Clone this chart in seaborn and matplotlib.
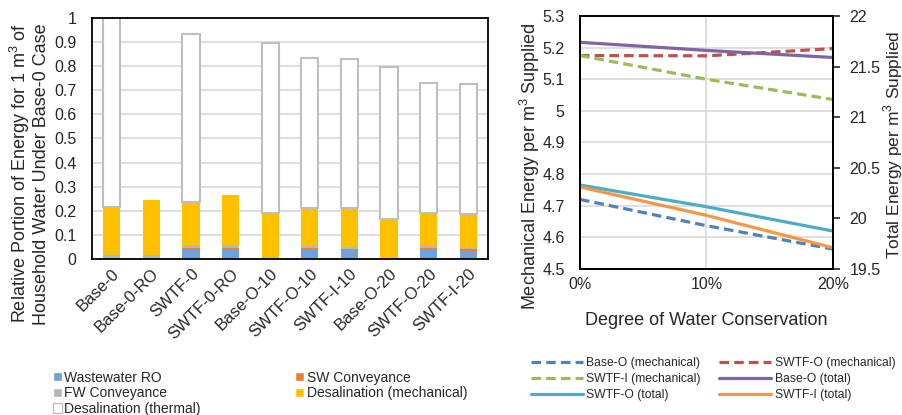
import matplotlib
matplotlib.use("Agg")
import matplotlib.pyplot as plt
import matplotlib.ticker as mticker
from matplotlib.patches import Patch
from matplotlib.lines import Line2D
import numpy as np
import pandas as pd
import seaborn as sns

# ---- data: stacked bars (relative energy portion) ----
cases = ["Base-0", "Base-0-RO", "SWTF-0", "SWTF-0-RO", "Base-O-10",
         "SWTF-O-10", "SWTF-I-10", "Base-O-20", "SWTF-O-20", "SWTF-I-20"]
wastewater_ro = [0.0, 0.0, 0.042, 0.042, 0.0, 0.042, 0.037, 0.0, 0.042, 0.034]
sw_conveyance = [0.0, 0.0, 0.003, 0.003, 0.0, 0.003, 0.004, 0.0, 0.003, 0.006]
fw_conveyance = [0.015, 0.015, 0.013, 0.013, 0.008, 0.010, 0.008, 0.004, 0.007, 0.007]
desal_mech = [0.200, 0.228, 0.177, 0.207, 0.184, 0.157, 0.161, 0.163, 0.138, 0.140]
desal_thermal = [0.785, 0.0, 0.700, 0.0, 0.706, 0.621, 0.620, 0.628, 0.542, 0.540]

# ---- data: energy vs water conservation ----
conservation = [0, 10, 20]
base_o_mech = [4.72, 4.637, 4.563]
swtf_o_mech = [5.175, 5.174, 5.197]
swtf_i_mech = [5.175, 5.10, 5.036]
base_o_total = [21.74, 21.66, 21.59]
swtf_o_total = [20.33, 20.115, 19.875]
swtf_i_total = [20.31, 20.03, 19.71]

sns.set_style("white")
plt.rcParams["font.family"] = ["Liberation Sans", "DejaVu Sans"]
plt.rcParams["mathtext.fontset"] = "custom"
plt.rcParams["mathtext.rm"] = "Liberation Sans"

W, H = 903, 415
fig = plt.figure(figsize=(W / 100, H / 100), dpi=100)


def px_axes(x0, y0, x1, y1):
    return fig.add_axes([x0 / W, 1 - y1 / H, (x1 - x0) / W, (y1 - y0) / H])


grid_c = "#D9D9D9"
tick_fs = 11.5
label_fs = 13
fmt = mticker.FuncFormatter(lambda v, p: f"{v:g}")

# ================= left: stacked bars =================
ax = px_axes(92, 18, 488, 259)
df = pd.DataFrame({"case": cases, "ww": wastewater_ro, "sw": sw_conveyance,
                   "fw": fw_conveyance, "mech": desal_mech, "thermal": desal_thermal})

layers = [("ww", "#70A1D7"), ("sw", "#ED7D31"), ("fw", "#B7B7B7"), ("mech", "#FFC000")]
bottom = np.zeros(len(cases))
for col, color in layers:
    sns.barplot(data=df, x="case", y=col, order=cases, color=color, width=0.43,
                bottom=bottom, ax=ax, linewidth=0, saturation=1, errorbar=None)
    bottom = bottom + df[col].to_numpy()

has_th = df["thermal"] > 0
sns.barplot(data=df[has_th], x="case", y="thermal", order=cases, color="white",
            width=0.43, bottom=bottom[has_th.to_numpy()], ax=ax,
            edgecolor="#BFBFBF", linewidth=1.5, saturation=1, errorbar=None)

ax.set_ylim(0, 1)
ax.set_xlim(-0.5, len(cases) - 0.5)
ax.yaxis.set_major_locator(mticker.MultipleLocator(0.1))
ax.yaxis.set_major_formatter(fmt)
ax.grid(axis="y", color=grid_c, linewidth=1.2)
ax.set_axisbelow(True)
ax.set_xlabel("")
ax.set_ylabel("")
ax.tick_params(axis="y", length=0, labelsize=tick_fs, pad=11)
ax.tick_params(axis="x", length=0, labelsize=12, pad=5)
ax.set_xticks(range(len(cases)))
ax.set_xticklabels(cases, rotation=45, ha="right", rotation_mode="anchor")
for s in ax.spines.values():
    s.set_color("black")
    s.set_linewidth(1.3)

fig.text(29 / W, 1 - 23 / H,
         "Relative Portion of Energy for 1 m$^3$ of\nHousehold Water Under Base-0 Case",
         rotation=90, ha="center", va="top", multialignment="right",
         fontsize=label_fs, linespacing=1.1)

left_handles = [
    Patch(facecolor="#70A1D7", label="Wastewater RO"),
    Patch(facecolor="#B7B7B7", label="FW Conveyance"),
    Patch(facecolor="white", edgecolor="#BFBFBF", linewidth=1, label="Desalination (thermal)"),
    Patch(facecolor="#ED7D31", label="SW Conveyance"),
    Patch(facecolor="#FFC000", label="Desalination (mechanical)"),
]
fig.legend(handles=left_handles, loc="upper left", bbox_to_anchor=(47 / W, 1 - 365 / H),
           ncol=2, frameon=False, fontsize=10, handlelength=0.65, handleheight=0.65,
           handletextpad=0.2, columnspacing=6.8, labelspacing=0.12, borderaxespad=0)

# ================= right: lines with twin axis =================
ax1 = px_axes(580, 16, 833, 269)
ax2 = ax1.twinx()

mech = [("Base-O (mechanical)", base_o_mech, "#4F81BD"),
        ("SWTF-O (mechanical)", swtf_o_mech, "#C0504D"),
        ("SWTF-I (mechanical)", swtf_i_mech, "#9BBB59")]
tot = [("Base-O (total)", base_o_total, "#8064A2"),
       ("SWTF-O (total)", swtf_o_total, "#4BACC6"),
       ("SWTF-I (total)", swtf_i_total, "#F79646")]

dash = (0, (3, 1.6))
handles = {}
for name, vals, color in mech:
    sns.lineplot(x=conservation, y=vals, ax=ax1, color=color, linewidth=2.3,
                 linestyle=dash, legend=False)
    handles[name] = Line2D([], [], color=color, linewidth=2.3, linestyle=dash)
for name, vals, color in tot:
    sns.lineplot(x=conservation, y=vals, ax=ax2, color=color, linewidth=2.3,
                 legend=False)
    handles[name] = Line2D([], [], color=color, linewidth=2.3)

ax1.set_xlim(0, 20)
ax1.set_ylim(4.5, 5.3)
ax2.set_ylim(19.5, 22)
ax1.set_xticks(conservation)
ax1.set_xticklabels([f"{c}%" for c in conservation])
ax1.yaxis.set_major_locator(mticker.MultipleLocator(0.1))
ax1.yaxis.set_major_formatter(fmt)
ax2.yaxis.set_major_locator(mticker.MultipleLocator(0.5))
ax2.yaxis.set_major_formatter(fmt)
ax1.grid(True, color=grid_c, linewidth=1.2)
ax1.set_axisbelow(True)
ax1.tick_params(axis="y", length=0, labelsize=tick_fs, pad=11)
ax1.tick_params(axis="x", length=0, labelsize=tick_fs, pad=6)
ax2.tick_params(axis="y", length=5, width=1.2, labelsize=tick_fs, pad=7)
ax1.set_xlabel("")
ax1.set_ylabel("")
ax2.set_ylabel("")
for a in (ax1, ax2):
    for s in a.spines.values():
        s.set_color("black")
        s.set_linewidth(1.3)

fig.text(706 / W, 1 - 320 / H, "Degree of Water Conservation", ha="center", va="center",
         fontsize=label_fs)
fig.text(530 / W, 1 - 166 / H, "Mechanical Energy per m$^3$ Supplied", rotation=90,
         ha="center", va="center", fontsize=label_fs)
fig.text(893 / W, 1 - 145 / H, "Total Energy per m$^3$ Supplied", rotation=90,
         ha="center", va="center", fontsize=12.5)

order = ["Base-O (mechanical)", "SWTF-I (mechanical)", "SWTF-O (total)",
         "SWTF-O (mechanical)", "Base-O (total)", "SWTF-I (total)"]
fig.legend([handles[n] for n in order], order, loc="upper left",
           bbox_to_anchor=(526 / W, 1 - 352 / H), ncol=2, frameon=False,
           fontsize=8.7, handlelength=4.3, handletextpad=0.3, columnspacing=1.5,
           labelspacing=0.35, borderaxespad=0)

fig.savefig("out.png", dpi=100)
